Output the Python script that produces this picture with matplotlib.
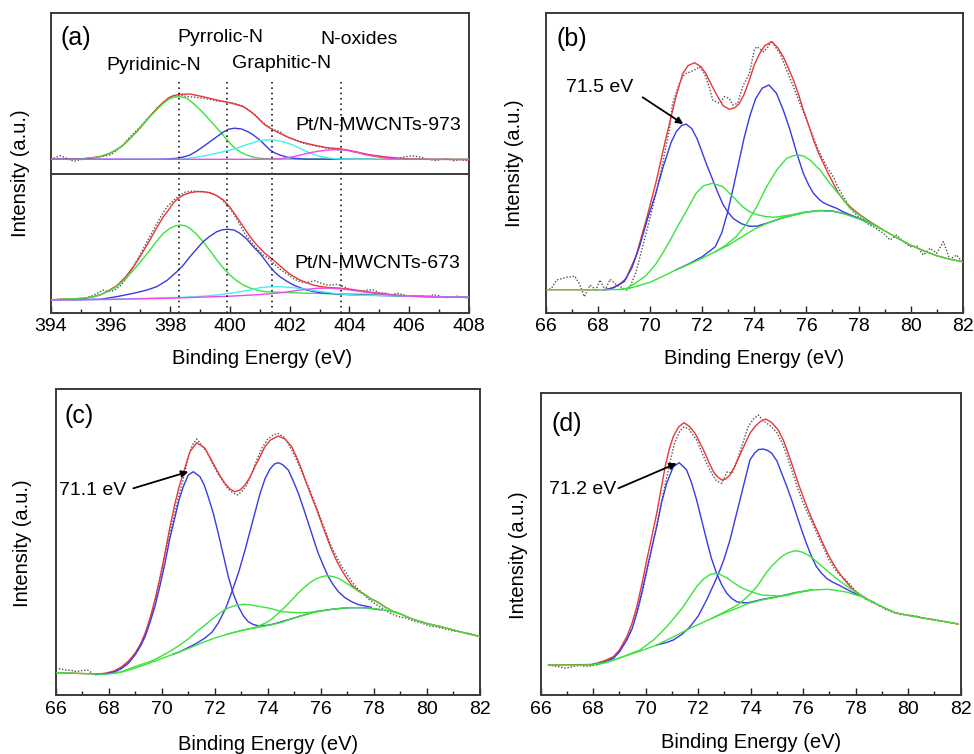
import matplotlib
matplotlib.use('Agg')
import matplotlib.pyplot as plt

plt.rcParams['font.family'] = ['Liberation Sans', 'DejaVu Sans']

W, H = 974, 754

# ---------------- tick labels ----------------
a_ticks = [394, 396, 398, 400, 402, 404, 406, 408]
pt_ticks = [66, 68, 70, 72, 74, 76, 78, 80, 82]

# ---------------- panel (a) : N 1s ----------------
a_peak_lines = [398.3, 399.9, 401.4, 403.7]
a_labels = ["Pyridinic-N", "Pyrrolic-N", "Graphitic-N", "N-oxides"]
a_samples = ["Pt/N-MWCNTs-973", "Pt/N-MWCNTs-673"]

# upper spectrum (973 K)
a973_raw_x = [394.0, 394.15, 394.31, 394.5, 394.65, 394.81, 395.0, 395.2, 395.4, 395.6, 395.8, 396.0, 396.2, 396.4,
              396.6, 396.8, 397.0, 397.2, 397.4, 397.6, 397.8, 398.0, 398.2, 398.4, 398.6, 398.8, 399.0, 399.2,
              399.4, 399.6, 399.8, 400.0, 400.2, 400.4, 400.6, 400.8, 401.0, 401.2, 401.45, 401.67, 401.9, 402.1,
              402.3, 402.5, 402.7, 402.9, 403.1, 403.3, 403.5, 403.7, 403.9, 404.1, 404.3, 404.5, 404.7, 404.9,
              405.1, 405.3, 405.5, 405.7, 405.9, 406.1, 406.3, 406.5, 406.7, 406.9, 407.1, 407.3, 407.5, 407.7, 408.0]
a973_raw_y = [153.4, 155, 157, 155, 152.5, 151.7, 153, 154, 154.5, 156, 156.5, 158, 162, 167,
              174, 180, 186, 193, 199, 206, 211, 215, 217, 217, 216, 215.5, 215, 214,
              213, 211.5, 211, 210, 209, 207, 203, 199, 193, 188, 183, 181, 176, 173.5,
              171.5, 169, 168, 166.5, 165.5, 164, 163.5, 162, 163, 161, 160, 158.5, 157, 157,
              156, 154.5, 154, 155, 156, 157, 156, 154.5, 153, 152, 153.5, 154, 152, 153, 152]
a973_red_x = [394.0, 394.5, 395.09, 395.4, 395.65, 395.98, 396.2, 396.43, 396.65, 396.88, 397.1, 397.32, 397.55,
              397.77, 397.95, 398.1, 398.33, 398.66, 399.1, 399.56, 400.0, 400.45, 400.7, 400.89, 401.0, 401.17,
              401.45, 401.9, 402.34, 402.79, 403.24, 403.68, 404.13, 404.58, 405.02, 405.47, 406.0, 406.5,
              407.0, 408.0]
a973_red_y = [153.4, 153.6, 154, 155, 156, 159.4, 163, 167.7, 174, 181, 188.5, 196.5, 204,
              210.5, 215, 217, 218.4, 218.7, 216, 212.7, 210, 206, 201, 196, 192.7, 187.7,
              182.7, 176, 171, 167.7, 165, 164, 161.5, 158.5, 156.4, 155, 153.8, 153.5,
              153.4, 153.2]
a973_pyridinic_x = [394.0, 394.5, 395.09, 395.4, 395.65, 395.98, 396.2, 396.43, 396.65, 396.88, 397.1, 397.32,
                    397.55, 397.77, 397.95, 398.1, 398.33, 398.55, 398.77, 399.0, 399.22, 399.45, 399.67, 399.9,
                    400.11, 400.33, 400.56, 400.78, 401.0, 401.5, 408.0]
a973_pyridinic_y = [153.4, 153.6, 154, 155, 156, 159.4, 163, 167.7, 174, 181, 188.5, 196,
                    203, 209.4, 213.5, 215.4, 216, 214.5, 209.4, 203, 196, 188.5, 181, 173,
                    166, 161, 157.7, 155.5, 154.4, 153.6, 153.4]
a973_pyrrolic_x = [394.0, 397.3, 397.8, 398.22, 398.45, 398.66, 398.88, 399.1, 399.33, 399.56, 399.75, 399.94,
                   400.15, 400.39, 400.6, 400.78, 401.0, 401.17, 401.34, 401.5, 401.67, 401.9, 402.12, 402.5, 404.8]
a973_pyrrolic_y = [153.4, 153.4, 153.6, 154.4, 155.8, 157.7, 161.5, 166, 171, 176, 180, 183.4,
                   184.5, 183.7, 181, 177.7, 172.7, 167.7, 162.7, 159.8, 157.7, 155.6, 154.4, 153.6, 153.4]
a973_graphitic_x = [396.0, 398.0, 398.4, 399.0, 399.56, 399.9, 400.22, 400.6, 401.0, 401.2, 401.45, 401.7, 401.9,
                    402.12, 402.34, 402.56, 402.79, 403.0, 403.24, 403.5, 403.68, 404.0, 404.8]
a973_graphitic_y = [153.4, 153.4, 153.6, 156, 159.4, 162, 164.4, 168.5, 172, 172.8, 172.7, 171.5, 170,
                    167.5, 164.4, 161.3, 158.4, 156.5, 155, 154, 153.7, 153.5, 153.4]
a973_oxide_x = [394.0, 401.0, 401.67, 402.12, 402.4, 402.68, 402.96, 403.24, 403.5, 403.68, 403.9, 404.13, 404.35,
                404.58, 404.8, 405.02, 405.25, 405.47, 406.0, 408.0]
a973_oxide_y = [153.4, 153.4, 153.8, 156, 158, 160, 161.5, 162.5, 163, 163.2, 162.5, 161, 159.5,
                157.7, 156.5, 155.4, 154.4, 153.8, 153.4, 153.2]

# lower spectrum (673 K)
a673_raw_x = [394.0, 394.2, 394.4, 394.6, 394.8, 395.0, 395.2, 395.4, 395.6, 395.75, 395.9, 396.1, 396.3, 396.5,
              396.7, 396.9, 397.1, 397.3, 397.5, 397.7, 397.9, 398.1, 398.3, 398.5, 398.7, 398.9, 399.1, 399.3,
              399.5, 399.7, 399.9, 400.1, 400.3, 400.5, 400.7, 400.9, 401.1, 401.3, 401.5, 401.7, 401.9, 402.1,
              402.3, 402.5, 402.7, 402.85, 403.0, 403.2, 403.4, 403.6, 403.8, 404.0, 404.2, 404.4, 404.6, 404.8,
              405.0, 405.2, 405.4, 405.6, 405.8, 406.0, 406.2, 406.4, 406.6, 406.8, 407.0, 407.2, 407.4, 407.6,
              407.8, 408.0]
a673_raw_y = [12.7, 13.5, 14, 13.5, 12.3, 13, 15, 17, 20, 22.7, 21, 22, 26, 33,
              42, 53, 64, 75, 86, 97, 106, 112, 117, 120.5, 121.5, 121.5, 121, 120,
              118, 114, 108, 100, 90, 79, 71, 64, 58, 54, 48, 43, 39, 34.5,
              31.5, 30, 31, 32, 30, 28, 27.5, 28.5, 26, 23.5, 22.5, 21.5, 22.7, 22.7,
              20, 19.5, 18, 19.5, 18, 16.5, 16, 17, 16, 18, 17, 15, 15.5, 16.5,
              15.3, 15]
a673_red_x = [394.0, 394.5, 395.09, 395.4, 395.65, 395.9, 396.2, 396.5, 396.77, 397.05, 397.32, 397.55, 397.77,
              397.95, 398.1, 398.25, 398.44, 398.66, 398.89, 399.1, 399.33, 399.56, 399.78, 400.0, 400.22, 400.45,
              400.67, 400.89, 401.17, 401.45, 401.67, 401.9, 402.12, 402.34, 402.56, 402.79, 403.0, 403.24,
              403.68, 404.13, 404.58, 405.02, 405.47, 406.0, 406.5, 407.0, 408.0]
a673_red_y = [12.7, 13.5, 14.4, 15.8, 17.7, 21.5, 26.7, 35.5, 46, 59, 72.7, 85, 96,
              103, 109.4, 114, 117.7, 120, 121, 121, 120, 117, 112.7, 105.5, 96, 86,
              76, 68, 59.4, 52.7, 47, 41, 36.5, 32.7, 30, 27.7, 26.3, 25.3,
              24.5, 23, 21, 19.3, 17.8, 16.7, 16.2, 15.8, 15.3]
a673_pyridinic_x = [394.0, 395.09, 395.4, 395.65, 395.9, 396.2, 396.5, 396.77, 397.05, 397.32, 397.55, 397.77,
                    398.0, 398.15, 398.33, 398.5, 398.66, 398.88, 399.1, 399.33, 399.56, 399.78, 400.0, 400.22,
                    400.45, 400.67, 400.89, 401.17, 401.67, 402.68, 403.5, 404.5, 405.5, 406.5, 408.0]
a673_pyridinic_y = [12.7, 14.4, 15.8, 17.7, 21, 26, 33.5, 42.7, 52.5, 62.7, 71.5, 79.4,
                    84.5, 86.5, 87.7, 87, 84.4, 78.5, 71, 62, 52.7, 44.5, 37.7, 32,
                    27.7, 24.7, 22.7, 21, 20.4, 19.4, 19, 18.5, 17.2, 16.3, 15.3]
a673_pyrrolic_x = [394.0, 395.65, 396.2, 396.77, 397.2, 397.55, 397.9, 398.22, 398.45, 398.66, 398.88, 399.1,
                   399.33, 399.56, 399.75, 399.94, 400.15, 400.33, 400.55, 400.78, 401.0, 401.17, 401.34, 401.5,
                   401.67, 401.9, 402.12, 402.35, 402.57, 403.0, 403.68, 404.36, 405.0, 406.0, 408.0]
a673_pyrrolic_y = [12.7, 13.4, 16, 19.4, 22.5, 26, 32.5, 41, 48, 56, 63.5, 71,
                   76.5, 81, 83, 83.4, 82.5, 79.4, 74, 66, 59.4, 52.7, 46, 40.5,
                   36, 31.5, 27.7, 25, 22.7, 20, 18.4, 17.7, 17.2, 16.5, 15.3]
a673_graphitic_x = [394.0, 396.0, 398.4, 399.0, 399.56, 400.1, 400.67, 401.0, 401.3, 401.56, 401.85, 402.12,
                    402.4, 402.68, 402.96, 403.24, 403.5, 403.8, 404.36, 405.0, 406.0, 408.0]
a673_graphitic_y = [12.7, 13.3, 15.4, 16.3, 17.7, 19.8, 22.7, 25, 25.8, 26, 25.7, 25,
                    24, 22.7, 21.5, 20.4, 19.3, 18.4, 17.4, 17.2, 16.5, 15.3]
a673_oxide_x = [394.0, 396.0, 398.0, 400.0, 400.8, 401.3, 401.8, 402.2, 402.6, 403.0, 403.4, 403.8, 404.2,
                404.6, 405.0, 405.5, 406.0, 407.0, 408.0]
a673_oxide_y = [12.7, 13.3, 14.5, 16.5, 17.8, 18.8, 20.3, 22, 23.5, 24.5, 24.5, 23.5, 22,
                20.3, 18.8, 17.3, 16.5, 15.8, 15.3]

# ---------------- panel (b) : Pt 4f ----------------
b_raw_x = [66.0, 66.2, 66.41, 66.6, 66.79, 67.02, 67.1, 67.3, 67.47, 67.69, 67.92, 68.07, 68.27, 68.46, 68.71,
           68.9, 69.1, 69.2, 69.45, 69.71, 69.9, 70.1, 70.3, 70.48, 70.62, 70.74, 70.86, 71.0, 71.12, 71.25,
           71.38, 71.57, 71.7, 71.89, 72.08, 72.27, 72.4, 72.66, 72.85, 73.04, 73.17, 73.36, 73.55, 73.81,
           74.0, 74.09, 74.2, 74.35, 74.5, 74.67, 74.85, 74.99, 75.24, 75.5, 75.75, 76.01, 76.2, 76.4, 76.6,
           76.78, 77.03, 77.2, 77.42, 77.6, 77.8, 78.0, 78.19, 78.4, 78.57, 78.75, 78.96, 79.21, 79.47,
           79.72, 79.98, 80.24, 80.49, 80.75, 81.0, 81.26, 81.5, 81.77, 81.96]
b_raw_y = [23, 24, 32.7, 34, 35.4, 36, 36.7, 28, 16, 27.7, 22.7, 32.7, 22.7, 33.4, 27.7,
           25.4, 22.7, 24.4, 40, 66, 85, 106, 128, 149.4, 168, 182.7, 209.4, 220, 229.4, 236,
           239.4, 241, 242.7, 246, 239.4, 226, 212.7, 209.4, 216, 214.4, 207.7, 209.4, 226, 239.4,
           262.7, 266, 264, 261, 265, 272, 264, 259, 242.7, 226, 209.4, 192.7, 180, 166, 155,
           146, 136, 126, 116, 108, 101, 96, 92.7, 88, 86, 83, 79.4, 72.7, 77.7,
           71, 66, 66.7, 57.7, 64.4, 59.4, 71, 53.4, 57.7, 51]
b_red_x = [66.0, 68.4, 68.56, 68.8, 69.07, 69.46, 69.84, 70.22, 70.6, 70.99, 71.25, 71.45, 71.7, 71.95, 72.14,
           72.35, 72.53, 72.8, 73.04, 73.25, 73.42, 73.6, 73.8, 74.0, 74.2, 74.4, 74.67, 74.9, 75.11, 75.3,
           75.5, 75.7, 75.88, 76.08, 76.27, 76.46, 76.65, 76.84, 77.03, 77.22, 77.42, 77.67, 78.0, 78.3,
           78.5, 79.0, 79.5, 80.0, 80.5, 81.0, 81.5, 82.0]
b_red_y = [23, 23, 25, 28, 34, 57, 92, 130, 174, 216, 239, 247, 250, 246, 239,
           228, 219, 207, 203.4, 205, 209, 218, 232, 248, 259, 267, 271, 265, 256, 245,
           232.7, 218, 202.7, 188, 172.7, 160, 149.4, 139, 129.4, 120, 112.7, 106, 99, 93.5,
           90, 82, 74.5, 67.5, 62, 57, 53.5, 51]
b_bg_x = [66.0, 67.0, 68.0, 68.8, 69.2, 69.5, 70.0, 70.5, 71.0, 71.5, 72.0, 72.5, 73.0, 73.5, 74.0, 74.5, 75.0,
          75.5, 76.0, 76.5, 77.0, 77.5, 78.0, 78.5, 79.0, 79.5, 80.0, 80.5, 81.0, 81.5, 82.0]
b_bg_y = [23, 23, 23, 23.2, 24.5, 26.5, 30.5, 36.5, 43, 48.5, 54.5, 61, 67.5, 75.5, 83.5, 89.5, 94,
          97.5, 100.5, 102, 101.5, 98.5, 94, 88.5, 82, 74.5, 67.5, 62, 57, 53.5, 51]
b_pk1_x = [68.2, 68.6, 69.0, 69.3, 69.6, 69.9, 70.2, 70.5, 70.8, 71.0, 71.2, 71.38, 71.6, 71.8, 72.0, 72.2, 72.4,
           72.6, 72.8, 73.0, 73.2, 73.5, 73.8, 74.1, 74.5, 75.0, 75.5, 76.0, 76.5, 77.0, 77.5, 78.0, 78.5]
b_pk1_y = [23, 25, 31, 45, 67, 94, 118, 146, 170, 181, 187, 188.7, 184, 174, 160, 146, 133,
           120, 108, 100, 94, 89, 86.5, 86.5, 89.7, 94.2, 97.7, 100.7, 102.2, 101.7, 98.7, 94.2, 88.7]
b_pk2_x = [71.0, 71.5, 72.0, 72.5, 72.75, 72.97, 73.2, 73.4, 73.6, 73.83, 74.05, 74.3, 74.56, 74.85, 75.11,
           75.37, 75.63, 75.88, 76.1, 76.27, 76.5, 76.65, 76.9, 77.16, 77.4, 77.67, 78.0, 78.5]
b_pk2_y = [43, 49, 56, 66, 80, 100, 126, 150, 174, 197, 214, 224.5, 227.7, 219.4, 202.7,
           182.7, 159.4, 139.4, 127, 119.4, 113, 110, 107, 104.4, 101, 98, 94.5, 88.7]
b_sat1_x = [68.8, 69.07, 69.4, 69.84, 70.2, 70.48, 70.8, 71.12, 71.45, 71.76, 72.05, 72.4, 72.79, 73.1, 73.3,
            73.55, 73.81, 74.1, 74.47, 74.8, 75.11, 75.45, 75.75, 76.1, 76.5]
b_sat1_y = [23, 24, 29, 37, 48, 59.4, 74, 89.4, 104.5, 119.4, 127, 129.4, 126, 118, 112.7,
            106, 101, 98, 96, 95.5, 96.7, 98, 99.8, 101, 102]
b_sat2_x = [72.5, 72.9, 73.3, 73.68, 74.09, 74.47, 74.86, 75.24, 75.5, 75.7, 75.9, 76.14, 76.52, 76.9, 77.29,
            77.67, 78.06, 78.45, 78.8]
b_sat2_y = [61, 67.5, 76, 88, 106, 126, 142.7, 154.4, 157, 157.7, 156.5, 152.7, 142.7, 129.4, 117,
            104.5, 97, 90, 85]

# ---------------- panel (c) ----------------
c_raw_x = [66.0, 66.2, 66.4, 66.6, 66.8, 67.0, 67.2, 67.48, 67.7, 67.9, 68.1, 68.3, 68.5, 68.75, 69.0, 69.2,
           69.4, 69.6, 69.8, 70.0, 70.2, 70.4, 70.6, 70.8, 71.0, 71.15, 71.32, 71.5, 71.7, 71.9, 72.1, 72.3,
           72.5, 72.7, 72.85, 73.0, 73.2, 73.4, 73.6, 73.8, 74.0, 74.2, 74.39, 74.6, 74.8, 75.0, 75.2, 75.4,
           75.6, 75.8, 76.0, 76.2, 76.4, 76.6, 76.8, 77.0, 77.2, 77.4, 77.6, 77.8, 78.0, 78.3, 78.6, 78.9,
           79.2, 79.5, 79.8, 80.1, 80.4, 80.7, 81.0, 81.3, 81.6, 82.0]
c_raw_y = [26.7, 26, 25, 24.5, 23.5, 24.5, 25, 20, 21, 21.5, 22, 23.5, 27, 33, 41, 50,
           62, 79, 100, 124, 150, 172, 195, 215, 238, 250, 256, 250, 243, 232, 222, 214,
           206, 202, 200, 203, 210, 222, 236, 248, 256, 260, 261.5, 258, 250, 240, 228, 216,
           204, 190, 176, 162, 148, 138, 128, 120, 112, 106, 101, 96, 92, 87, 82, 78.5,
           77, 74, 72, 69, 68, 66, 64, 63, 61.5, 58.5]
c_red_x = [66.0, 67.5, 67.86, 68.2, 68.49, 68.75, 68.99, 69.2, 69.37, 69.55, 69.74, 69.93, 70.12, 70.3, 70.5,
           70.65, 70.81, 71.06, 71.32, 71.63, 72.01, 72.2, 72.38, 72.57, 72.76, 72.95, 73.14, 73.33, 73.51,
           73.7, 73.89, 74.1, 74.39, 74.65, 74.9, 75.1, 75.28, 75.45, 75.65, 75.85, 76.03, 76.22, 76.41, 76.6,
           76.78, 76.97, 77.16, 77.4, 77.66, 77.9, 78.16, 78.4, 78.67, 79.0, 79.5, 80.0, 80.5, 81.0, 81.5, 82.0]
c_red_y = [22.3, 21, 21.7, 24, 28.3, 34, 41.7, 51, 61.7, 76, 95, 117, 141.7, 167, 191.7,
           208, 221.7, 243.3, 252.3, 246.7, 228.3, 219, 211.7, 206, 203.3, 205, 210, 218, 228.3,
           238, 248.3, 255, 259, 256, 248.3, 237, 225, 212, 198.3, 185, 171.7, 158, 145, 134,
           125, 117, 110, 104.5, 100.5, 96, 92.8, 88.5, 84.3, 81, 75.5, 71.5, 68.5, 65, 61.5, 58.5]
c_bg_x = [66.0, 66.5, 67.0, 67.5, 68.0, 68.5, 69.0, 69.5, 70.0, 70.5, 71.0, 71.5, 72.0, 72.5, 73.0, 73.5, 74.0,
          74.5, 75.0, 75.5, 76.0, 76.5, 77.0, 77.5, 78.0, 78.5, 79.0, 79.5, 80.0, 80.5, 81.0, 81.5, 82.0]
c_bg_y = [22.3, 22, 21.5, 21, 21, 23, 27, 31.5, 36.5, 41.5, 46.5, 52, 57, 61, 64.5, 67, 69.5,
          72.5, 77, 81, 84, 86, 87.3, 87.5, 86.5, 84.5, 81, 75.5, 71.5, 68.5, 65, 61.5, 58.5]
c_pk1_x = [67.5, 67.86, 68.2, 68.49, 68.75, 68.99, 69.2, 69.37, 69.55, 69.74, 69.93, 70.12, 70.3, 70.5, 70.65,
           70.81, 71.0, 71.19, 71.44, 71.6, 71.75, 71.95, 72.13, 72.32, 72.51, 72.7, 72.89, 73.08, 73.26,
           73.45, 73.64, 73.85, 74.08, 74.52, 75.15, 75.78, 76.41, 77.04, 77.66, 78.29]
c_pk1_y = [21, 21, 23, 26.7, 32, 40, 49, 58.3, 72, 88.3, 109, 131.7, 156, 178.3, 195,
           208.3, 220, 223.3, 218.3, 210, 198.3, 181, 161.7, 140, 118.3, 101, 88.3, 79, 73.3,
           70.5, 69.2, 69.5, 70, 73.3, 78.3, 83.3, 85.7, 87.3, 87.3, 85]
c_pk2_x = [70.4, 70.7, 71.0, 71.3, 71.63, 71.9, 72.13, 72.4, 72.64, 72.9, 73.14, 73.35, 73.51, 73.7, 73.89,
           74.08, 74.25, 74.39, 74.55, 74.77, 74.96, 75.15, 75.34, 75.53, 75.72, 75.9, 76.1, 76.28, 76.47,
           76.66, 76.9, 77.16, 77.4, 77.66, 77.9]
c_pk2_y = [40.5, 43.5, 47.5, 51.5, 57, 63, 72, 86, 103, 123, 145, 166, 182, 201, 216,
           226, 231, 232.3, 230.5, 225, 214, 201.7, 187, 171.7, 156, 141.7, 129, 118.3, 110,
           103.3, 97.5, 93.3, 90.5, 89, 87.7]
c_sat1_x = [68.2, 68.5, 69.0, 69.5, 69.74, 70.2, 70.6, 71.0, 71.3, 71.63, 71.95, 72.26, 72.5, 72.76, 73.07,
            73.3, 73.51, 73.8, 74.08, 74.52, 75.15, 75.5, 75.78, 76.1]
c_sat1_y = [21.5, 23.5, 28.5, 33, 35.5, 42, 48.5, 56, 63, 70, 77, 83.3, 87, 89.3, 90.7,
            90.3, 89.3, 88, 86.7, 83.3, 82.3, 82.5, 83.3, 84.5]
c_sat2_x = [72.5, 73.0, 73.5, 73.89, 74.15, 74.39, 74.65, 74.9, 75.15, 75.4, 75.6, 75.78, 76.0, 76.22, 76.45,
            76.66, 76.9, 77.16, 77.4, 77.66, 77.9, 78.16, 78.4, 78.67, 79.0]
c_sat2_y = [61, 64.5, 67.5, 71.7, 76, 81.7, 88, 95, 102, 108.3, 112.5, 115.7, 118, 119.3, 118.5,
            116.7, 113, 108.3, 104, 100, 96, 92.3, 88, 84.3, 81]

# ---------------- panel (d) ----------------
d_raw_x = [66.3, 66.5, 66.7, 66.9, 67.1, 67.3, 67.5, 67.7, 67.9, 68.1, 68.3, 68.5, 68.77, 69.0, 69.28, 69.5,
           69.7, 69.9, 70.1, 70.3, 70.5, 70.7, 70.9, 71.1, 71.3, 71.46, 71.65, 71.8, 71.94, 72.1, 72.3, 72.5,
           72.7, 72.9, 73.1, 73.3, 73.5, 73.7, 73.9, 74.1, 74.29, 74.45, 74.6, 74.8, 75.0, 75.2, 75.4, 75.6,
           75.81, 76.0, 76.2, 76.4, 76.6, 76.8, 76.96, 77.15, 77.35, 77.59, 77.8, 78.0, 78.3, 78.6, 78.86,
           79.1, 79.4, 79.7, 80.0, 80.3, 80.6, 80.9, 81.2, 81.5, 81.9]
d_raw_y = [30, 29, 28.3, 27, 27.5, 29, 29.5, 28.5, 29, 30, 32, 34, 38, 44, 55, 68,
           85, 106, 130, 155, 180, 205, 230, 252, 264, 268, 266, 260, 255, 245, 233, 222,
           214, 211.7, 223, 222, 236, 252, 268, 276, 280, 275, 272, 268, 262, 252, 238, 222,
           205, 192, 180, 169, 157, 146, 136, 128, 121, 116, 110, 104, 97, 93, 90,
           86, 83, 80.5, 80, 79, 77, 76, 74.5, 73, 71]
d_red_x = [66.3, 67.9, 68.13, 68.45, 68.77, 69.0, 69.28, 69.47, 69.66, 69.85, 70.04, 70.23, 70.42, 70.58,
           70.74, 70.9, 71.05, 71.25, 71.46, 71.67, 71.88, 72.07, 72.26, 72.42, 72.58, 72.74, 72.9, 73.05,
           73.21, 73.4, 73.59, 73.78, 73.97, 74.16, 74.37, 74.57, 74.8, 75.05, 75.24, 75.43, 75.62, 75.81,
           76.0, 76.19, 76.38, 76.58, 76.77, 76.96, 77.15, 77.34, 77.53, 77.72, 77.91, 78.1, 78.35, 78.6,
           78.86, 79.5, 80.13, 80.77, 81.4, 81.9]
d_red_y = [30, 30.5, 31.7, 34.5, 38.3, 45, 58.3, 71, 88.3, 110, 135, 158, 181.7, 205,
           228.3, 246, 258.3, 268, 272.3, 268.5, 261.7, 252, 241.7, 232, 223.3, 218, 215, 216,
           220, 229, 240, 251, 261.7, 268.3, 273.5, 276, 272.5, 265, 255, 241.7, 227, 211.7,
           198, 185, 173, 161.7, 150.5, 140, 131, 123.3, 116.5, 110.5, 105, 101.5, 97.5, 93.5,
           90, 82.3, 79, 76, 73.3, 71]
d_bg_x = [66.3, 66.8, 67.3, 67.9, 68.5, 69.15, 69.8, 70.42, 71.05, 71.69, 72.3, 72.96, 73.5, 73.9, 74.42,
          75.05, 75.69, 76.32, 76.96, 77.59, 78.23, 78.86, 79.5, 80.13, 80.77, 81.4, 81.9]
d_bg_y = [30, 30, 30, 30, 32.5, 38.3, 44, 50, 58, 66.7, 74, 81.7, 87, 91.5, 95,
          98.3, 102.3, 105, 105.7, 103.3, 98.3, 90, 82.3, 79, 76, 73.3, 71]
d_pk1_x = [67.9, 68.13, 68.5, 68.77, 69.0, 69.28, 69.48, 69.66, 69.85, 70.04, 70.23, 70.42, 70.6, 70.8, 71.05,
           71.28, 71.56, 71.75, 71.94, 72.13, 72.32, 72.5, 72.7, 72.9, 73.09, 73.28, 73.47, 73.7, 73.91,
           74.42, 75.05, 75.69, 76.32]
d_pk1_y = [30, 31, 33.5, 36.7, 43, 55, 66, 81.7, 102, 125, 147, 168.3, 192, 211.7, 228.3,
           232.3, 225, 212, 195, 175, 155, 137, 121.7, 110, 101.7, 96.5, 93.3, 92.2, 92.3,
           95.5, 98.5, 102.3, 105]
d_pk2_x = [70.42, 70.8, 71.05, 71.4, 71.69, 72.0, 72.32, 72.6, 72.83, 73.0, 73.21, 73.4, 73.59, 73.78, 73.97,
           74.15, 74.3, 74.48, 74.65, 74.8, 75.0, 75.18, 75.37, 75.56, 75.75, 75.94, 76.13, 76.32, 76.5,
           76.7, 76.9, 77.09, 77.35, 77.59, 77.85, 78.1]
d_pk2_y = [50, 52.5, 55, 61, 68.3, 79, 95, 111, 125, 137, 155, 175, 195, 215, 235,
           242, 245.5, 246, 244.5, 241.7, 234, 221.7, 209, 195, 180, 165, 151, 138.3, 128.5,
           121.7, 116.5, 113.3, 110, 106.7, 103, 100]
d_sat1_x = [68.13, 68.6, 69.15, 69.78, 70.3, 70.8, 71.1, 71.43, 71.7, 71.94, 72.2, 72.45, 72.65, 72.83, 73.1,
            73.34, 73.6, 73.85, 74.1, 74.42, 75.05, 75.4, 75.69, 76.0, 76.32]
d_sat1_y = [30, 33.5, 38.5, 45, 55, 68.3, 77.5, 88.3, 99, 108.3, 116, 120.5, 121.5, 120.5, 117,
            112.5, 108, 105, 102.5, 100, 99, 99.5, 101.7, 103.5, 105]
d_sat2_x = [72.5, 73.0, 73.5, 73.78, 74.0, 74.24, 74.42, 74.6, 74.8, 75.0, 75.18, 75.4, 75.69, 75.95, 76.19,
            76.4, 76.58, 76.77, 76.96, 77.15, 77.34, 77.53, 77.72, 77.91, 78.1, 78.3, 78.48, 78.7]
d_sat2_y = [76.5, 83, 90, 96, 101.5, 108.5, 115.5, 122.5, 128.8, 134, 138.5, 142, 144.3, 143, 140,
            136, 131.7, 127.5, 123.3, 119, 115, 111.5, 107.7, 104.5, 101, 98, 95, 93]

# annotations (label, arrow tail, arrow head) in data units
b_note = ("71.5 eV", (69.71, 215.4), (71.27, 188.7))
c_note = ("71.1 eV", (68.93, 206.7), (71.0, 223.3))
d_note = ("71.2 eV", (68.96, 206.7), (71.18, 231.7))

# ---------------- drawing ----------------
RED = '#e8363a'
BLUE = '#3a3ae4'
GREEN = '#3ae43a'
CYAN = '#48eef0'
MAGENTA = '#f048f0'
RAW = '#505050'
LW = 1.0

fig = plt.figure(figsize=(W / 100, H / 100), dpi=100)


def px_axes(l, t, r, b):
    return fig.add_axes([l / W, 1 - b / H, (r - l) / W, (b - t) / H])


def ftext(px, py, s, size=14, **kw):
    fig.text(px / W, 1 - py / H, s, fontsize=size, ha='center', va='center', **kw)


def style(ax, ticks, ymax, pad):
    ax.set_xlim(ticks[0], ticks[-1])
    ax.set_ylim(0, ymax)
    ax.set_xticks(ticks, labels=[str(t) for t in ticks])
    minor = [t + 1 for t in ticks[:-1]]
    ax.set_xticks(minor, minor=True)
    ax.set_yticks([])
    ax.tick_params(axis='x', which='major', direction='in', length=5, width=1.0,
                   labelsize=14, pad=pad, top=False, colors='#222222', labelcolor='black')
    ax.tick_params(axis='x', which='minor', direction='in', length=3, width=1.0, top=False,
                   colors='#222222')
    for s in ax.spines.values():
        s.set_linewidth(1.4)
        s.set_color('#3a3a3a')


def raw(ax, x, y):
    ax.plot(x, y, color=RAW, lw=1.0, ls=(0, (1, 1.3)), zorder=2)


def line(ax, x, y, c, z=3):
    ax.plot(x, y, color=c, lw=LW, zorder=z, solid_joinstyle='round')


# panel (a)
axa = px_axes(50.7, 13.3, 469, 312.7)
style(axa, a_ticks, 299.4, 4)
raw(axa, a973_raw_x, a973_raw_y)
line(axa, a973_red_x, a973_red_y, RED)
line(axa, a973_pyridinic_x, a973_pyridinic_y, GREEN, 4)
line(axa, a973_pyrrolic_x, a973_pyrrolic_y, BLUE, 4)
line(axa, a973_graphitic_x, a973_graphitic_y, CYAN, 4)
line(axa, a973_oxide_x, a973_oxide_y, MAGENTA, 5)
raw(axa, a673_raw_x, a673_raw_y)
line(axa, a673_red_x, a673_red_y, RED)
line(axa, a673_pyridinic_x, a673_pyridinic_y, GREEN, 4)
line(axa, a673_pyrrolic_x, a673_pyrrolic_y, BLUE, 4)
line(axa, a673_graphitic_x, a673_graphitic_y, CYAN, 4)
line(axa, a673_oxide_x, a673_oxide_y, MAGENTA, 5)
axa.vlines(a_peak_lines, 0, 232.7, colors='#222222', linestyles=(0, (1, 2.2)), lw=1.2, zorder=6)
axa.axhline(138.4, color='#3a3a3a', lw=1.4, zorder=7)

ftext(76, 38, "(a)", size=18)
ftext(154, 66, a_labels[0])
ftext(220, 38, a_labels[1])
ftext(282, 63, a_labels[2])
ftext(359, 40, a_labels[3])
ftext(378, 126, a_samples[0])
ftext(377, 264, a_samples[1])


def pt_panel(ax, raw_x, raw_y, red_x, red_y, bg_x, bg_y, p1x, p1y, p2x, p2y, s1x, s1y, s2x, s2y, note):
    raw(ax, raw_x, raw_y)
    line(ax, red_x, red_y, RED)
    line(ax, p1x, p1y, BLUE, 4)
    line(ax, p2x, p2y, BLUE, 4)
    line(ax, bg_x, bg_y, GREEN, 5)
    line(ax, s1x, s1y, GREEN, 5)
    line(ax, s2x, s2y, GREEN, 5)
    txt, tail, head = note
    ax.annotate('', xy=head, xytext=tail,
                arrowprops=dict(arrowstyle='-|>', color='black', lw=1.3,
                                mutation_scale=10, shrinkA=0, shrinkB=0), zorder=8)


axb = px_axes(546, 13.3, 962.7, 312.7)
style(axb, pt_ticks, 299.4, 4)
pt_panel(axb, b_raw_x, b_raw_y, b_red_x, b_red_y, b_bg_x, b_bg_y, b_pk1_x, b_pk1_y, b_pk2_x, b_pk2_y,
         b_sat1_x, b_sat1_y, b_sat2_x, b_sat2_y, b_note)
ftext(572, 39, "(b)", size=18)
ftext(600, 87.5, b_note[0])

axc = px_axes(55.7, 389.3, 480, 695)
style(axc, pt_ticks, 305.7, 4.5)
pt_panel(axc, c_raw_x, c_raw_y, c_red_x, c_red_y, c_bg_x, c_bg_y, c_pk1_x, c_pk1_y, c_pk2_x, c_pk2_y,
         c_sat1_x, c_sat1_y, c_sat2_x, c_sat2_y, c_note)
ftext(79, 416.5, "(c)", size=18)
ftext(92.5, 491, c_note[0])

axd = px_axes(540.7, 393.3, 960.7, 695)
style(axd, pt_ticks, 301.7, 4.5)
pt_panel(axd, d_raw_x, d_raw_y, d_red_x, d_red_y, d_bg_x, d_bg_y, d_pk1_x, d_pk1_y, d_pk2_x, d_pk2_y,
         d_sat1_x, d_sat1_y, d_sat2_x, d_sat2_y, d_note)
ftext(567, 424, "(d)", size=18)
ftext(583, 490, d_note[0])

# axis titles
XL = "Binding Energy (eV)"
YL = "Intensity (a.u.)"
ftext(262, 358, XL, size=14.5)
ftext(754, 358, XL, size=14.5)
ftext(268, 745, XL, size=14.5)
ftext(751, 743, XL, size=14.5)
ftext(21, 173, YL, size=14.5, rotation=90)
ftext(515, 163, YL, size=14.5, rotation=90)
ftext(23, 543, YL, size=14.5, rotation=90)
ftext(518, 555, YL, size=14.5, rotation=90)

fig.savefig('out.png', dpi=100)
